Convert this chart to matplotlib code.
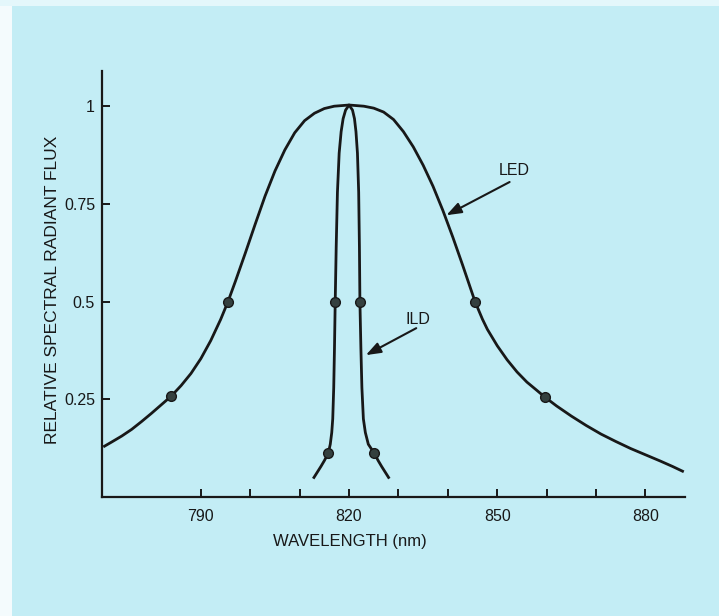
import numpy as np
import matplotlib
matplotlib.use('Agg')
import matplotlib.pyplot as plt

# Data (wavelength in nm, relative flux)
led_nm = [770.5, 772, 774, 776, 778, 780, 782, 784, 786, 788, 790, 792, 794, 795.5,
          797, 799, 801, 803, 805, 807, 809, 811, 813, 815, 817, 820, 823, 825, 827,
          829, 831, 833, 835, 837, 839, 841, 843, 845.5, 847, 848, 850, 852, 854, 856,
          858, 859.6, 862, 865, 868, 871, 874, 877, 880, 883, 885.5, 887.5]
led_flux = [0.130, 0.141, 0.156, 0.173, 0.193, 0.214, 0.236, 0.258, 0.285, 0.316,
            0.354, 0.400, 0.454, 0.500, 0.552, 0.624, 0.698, 0.770, 0.834, 0.888,
            0.932, 0.963, 0.982, 0.994, 1.000, 1.003, 1.000, 0.995, 0.985, 0.966,
            0.935, 0.896, 0.849, 0.795, 0.733, 0.665, 0.593, 0.500, 0.455, 0.429,
            0.387, 0.351, 0.320, 0.294, 0.273, 0.256, 0.233, 0.207, 0.183, 0.161,
            0.142, 0.124, 0.108, 0.092, 0.078, 0.066]

ild_nm = [812.9, 813.6, 814.3, 815.0, 815.8, 816.2, 816.5, 816.7, 816.9, 817.05,
          817.2, 817.4, 817.65, 818.0, 818.4, 818.8, 819.3, 820.0, 820.7, 821.1,
          821.4, 821.7, 821.95, 822.1, 822.2, 822.4, 822.6, 822.9, 823.3, 823.9,
          825.1, 825.9, 826.6, 827.3, 828.0]
ild_flux = [0.050, 0.064, 0.078, 0.093, 0.112, 0.135, 0.165, 0.200, 0.280, 0.380,
            0.500, 0.640, 0.780, 0.880, 0.935, 0.968, 0.990, 1.003, 0.990, 0.968,
            0.935, 0.880, 0.780, 0.640, 0.500, 0.380, 0.280, 0.200, 0.165, 0.135,
            0.112, 0.093, 0.078, 0.064, 0.050]

# Marked points on each curve
led_dot_nm = [784, 795.5, 845.5, 859.6]
led_dot_flux = [0.258, 0.5, 0.5, 0.256]
ild_dot_nm = [815.8, 817.2, 822.2, 825.1]
ild_dot_flux = [0.112, 0.5, 0.5, 0.112]

x_ticks = [790, 800, 810, 820, 830, 840, 850, 860, 870, 880]
x_ticklabels = ['790', '', '', '820', '', '', '850', '', '', '880']
y_ticks = [0.25, 0.5, 0.75, 1.0]
y_ticklabels = ['0.25', '0.5', '0.75', '1']

bg = '#c3edf5'
ink = '#181818'
plt.rcParams['font.family'] = ['Liberation Sans', 'DejaVu Sans']

fig = plt.figure(figsize=(7.19, 6.16), dpi=100, facecolor=bg)
ax = fig.add_axes([0.1419, 0.1932, 0.8108, 0.6915])
ax.set_facecolor(bg)

# scanned page edge (light strip on the left and top)
fig.patches.append(plt.Rectangle((0, 0), 0.017, 1, transform=fig.transFigure,
                                 facecolor='#f4fbfd', edgecolor='none', zorder=0))
fig.patches.append(plt.Rectangle((0, 0.991), 1, 0.009, transform=fig.transFigure,
                                 facecolor='#e4f7fb', edgecolor='none', zorder=0))

# curves
ax.plot(led_nm, led_flux, color=ink, lw=2.0, solid_joinstyle='round', zorder=3)
ax.plot(ild_nm, ild_flux, color=ink, lw=2.0, solid_joinstyle='round', zorder=3)
ax.plot(led_dot_nm, led_dot_flux, 'o', ms=7, color='#34403f', mec=ink, mew=1, zorder=4)
ax.plot(ild_dot_nm, ild_dot_flux, 'o', ms=7, color='#34403f', mec=ink, mew=1, zorder=4)

# labels with arrows
arrow = dict(arrowstyle='-|>,head_length=0.9,head_width=0.33', color=ink, lw=1.5,
             shrinkA=0, shrinkB=0)
ax.annotate('', xy=(839.7, 0.721), xytext=(852.5, 0.806), arrowprops=arrow)
ax.text(853.4, 0.835, 'LED', fontsize=11.5, color=ink, ha='center', va='center')
ax.annotate('', xy=(823.4, 0.363), xytext=(833.6, 0.432), arrowprops=arrow)
ax.text(834.0, 0.455, 'ILD', fontsize=11.5, color=ink, ha='center', va='center')

# axes
ax.set_xlim(770, 888)
ax.set_ylim(0, 1.09)
for s in ['top', 'right']:
    ax.spines[s].set_visible(False)
for s in ['left', 'bottom']:
    ax.spines[s].set_color(ink)
    ax.spines[s].set_linewidth(1.6)

ax.set_xticks(x_ticks)
ax.set_xticklabels(x_ticklabels)
ax.set_yticks(y_ticks)
ax.set_yticklabels(y_ticklabels)
ax.tick_params(axis='both', direction='in', length=6, width=1.4, color=ink,
               labelcolor=ink, labelsize=11.5)
ax.tick_params(axis='x', pad=8.5)
ax.tick_params(axis='y', pad=5)

ax.set_xlabel('WAVELENGTH (nm)', fontsize=12, color=ink, va='center')
ax.xaxis.set_label_coords(0.4254, -0.1056)
ax.set_ylabel('RELATIVE SPECTRAL RADIANT FLUX', fontsize=12.5, color=ink, va='center')
ax.yaxis.set_label_coords(-0.0858, 0.486)

fig.savefig('out.png', dpi=100, facecolor=bg)
